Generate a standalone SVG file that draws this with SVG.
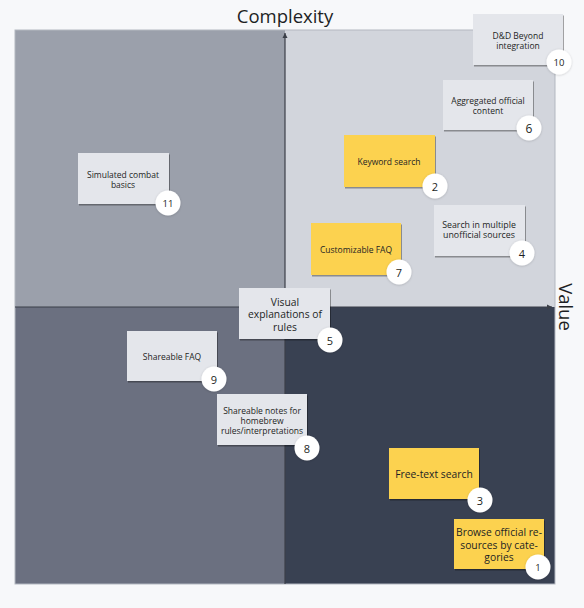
<svg xmlns="http://www.w3.org/2000/svg" width="584" height="608" viewBox="0 0 584 608">
<style>
.note{stroke:none}
.gray{fill:#e4e6eb}
.yel{fill:#fcd24f}
.nt{font-family:"Open Sans","Liberation Sans",sans-serif;font-size:8.5px;fill:#1d1f24;text-anchor:middle;dominant-baseline:central}
.lt{font-size:10.3px}
.badge{fill:#ffffff}
.bt{font-family:"Open Sans","Liberation Sans",sans-serif;font-size:11px;fill:#1d1f24;text-anchor:middle;dominant-baseline:central}
.axis{stroke:#3b3f48;stroke-width:1.2;fill:none}
.title{font-family:"Open Sans","Liberation Sans",sans-serif;font-size:18.5px;fill:#1d1f24}
</style>
<defs>
<filter id="sh" x="-10%" y="-10%" width="130%" height="140%">
<feDropShadow dx="1" dy="1.5" stdDeviation="0.7" flood-color="#000" flood-opacity="0.35"/>
</filter>
<filter id="bs" x="-30%" y="-30%" width="160%" height="160%">
<feDropShadow dx="0" dy="0.5" stdDeviation="0.8" flood-color="#000" flood-opacity="0.2"/>
</filter>
<marker id="ah" markerWidth="6" markerHeight="6" refX="5" refY="3" orient="auto" markerUnits="userSpaceOnUse">
<path d="M0,0.5 L5,3 L0,5.5 Z" fill="#3b3f48"/>
</marker>
</defs>
<rect width="584" height="608" fill="#f7f8fa"/>
<g id="quadrants">
<rect x="15" y="30" width="270" height="277" fill="#9ba0ab"/>
<rect x="285" y="30" width="270" height="277" fill="#d2d5dc"/>
<rect x="15" y="307" width="270" height="277" fill="#6b7080"/>
<rect x="285" y="307" width="270" height="277" fill="#394152"/>
<rect x="15" y="30" width="540" height="554" fill="none" stroke="#b3b7c0" stroke-width="1"/>
</g>
<g id="connectors">
<line class="axis" x1="285" y1="584" x2="285" y2="33" marker-end="url(#ah)"/>
<line class="axis" x1="15" y1="307" x2="552" y2="307" marker-end="url(#ah)"/>
</g>
<text class="title" x="285" y="23" text-anchor="middle">Complexity</text>
<text class="title" x="0" y="0" text-anchor="middle" transform="translate(566,307) rotate(90)" dominant-baseline="central">Value</text>

<g id="n10">
<rect class="note gray" x="473" y="14" width="90" height="51" filter="url(#sh)"/>
<text class="nt" x="518"><tspan x="518" y="35">D&amp;D Beyond</tspan><tspan x="518" y="45">integration</tspan></text>
<circle class="badge" cx="559" cy="62" r="12.5" filter="url(#bs)"/>
<text class="bt" x="559" y="62" style="font-size:9.5px">10</text>
</g>
<g id="n6">
<rect class="note gray" x="443" y="80" width="90" height="50" filter="url(#sh)"/>
<text class="nt"><tspan x="488" y="100">Aggregated official</tspan><tspan x="488" y="110">content</tspan></text>
<circle class="badge" cx="529" cy="128" r="12.5" filter="url(#bs)"/>
<text class="bt" x="529" y="128" style="font-size:12px">6</text>
</g>
<g id="n2">
<rect class="note yel" x="344" y="135" width="91" height="52" filter="url(#sh)"/>
<text class="nt" x="389" y="161">Keyword search</text>
<circle class="badge" cx="435" cy="186" r="12.5" filter="url(#bs)"/>
<text class="bt" x="435" y="186">2</text>
</g>
<g id="n4">
<rect class="note gray" x="434" y="205" width="91" height="51" filter="url(#sh)"/>
<text class="nt" style="font-size:8.8px"><tspan x="479" y="224.5">Search in multiple</tspan><tspan x="479" y="235">unofficial sources</tspan></text>
<circle class="badge" cx="522" cy="253" r="12.5" filter="url(#bs)"/>
<text class="bt" x="522" y="253">4</text>
</g>
<g id="n7">
<rect class="note yel" x="311" y="223" width="90" height="52" filter="url(#sh)"/>
<text class="nt" x="356" y="249">Customizable FAQ</text>
<circle class="badge" cx="399" cy="272" r="12.5" filter="url(#bs)"/>
<text class="bt" x="399" y="272">7</text>
</g>
<g id="n11">
<rect class="note gray" x="78" y="153" width="91" height="51" filter="url(#sh)"/>
<text class="nt"><tspan x="123" y="174">Simulated combat</tspan><tspan x="123" y="184">basics</tspan></text>
<circle class="badge" cx="168" cy="203" r="12.5" filter="url(#bs)"/>
<text class="bt" x="168" y="203" style="font-size:9.5px">11</text>
</g>
<g id="n5">
<rect class="note gray" x="239" y="288" width="91" height="51" filter="url(#sh)"/>
<text class="nt lt"><tspan x="285" y="301.5">Visual</tspan><tspan x="285" y="314">explanations of</tspan><tspan x="285" y="326.5">rules</tspan></text>
<circle class="badge" cx="330" cy="340" r="12.5" filter="url(#bs)"/>
<text class="bt" x="330" y="340">5</text>
</g>
<g id="n9">
<rect class="note gray" x="127" y="331" width="90" height="50" filter="url(#sh)"/>
<text class="nt" x="172" y="356">Shareable FAQ</text>
<circle class="badge" cx="214" cy="379" r="12.5" filter="url(#bs)"/>
<text class="bt" x="214" y="379">9</text>
</g>
<g id="n8">
<rect class="note gray" x="217" y="394" width="90" height="51" filter="url(#sh)"/>
<text class="nt"><tspan x="262" y="410">Shareable notes for</tspan><tspan x="262" y="420">homebrew</tspan><tspan x="262" y="430">rules/interpretations</tspan></text>
<circle class="badge" cx="307" cy="448" r="12.5" filter="url(#bs)"/>
<text class="bt" x="307" y="448">8</text>
</g>
<g id="n3">
<rect class="note yel" x="389" y="448" width="90" height="51" filter="url(#sh)"/>
<text class="nt lt" x="434" y="474">Free-text search</text>
<circle class="badge" cx="480" cy="500" r="12.5" filter="url(#bs)"/>
<text class="bt" x="480" y="500">3</text>
</g>
<g id="n1">
<rect class="note yel" x="454" y="519" width="90" height="50" filter="url(#sh)"/>
<text class="nt lt"><tspan x="499" y="532">Browse official re-</tspan><tspan x="499" y="544.5">sources by cate-</tspan><tspan x="499" y="557">gories</tspan></text>
<circle class="badge" cx="538" cy="567" r="12.5" filter="url(#bs)"/>
<text class="bt" x="538" y="567" style="font-size:9.5px">1</text>
</g>
</svg>
